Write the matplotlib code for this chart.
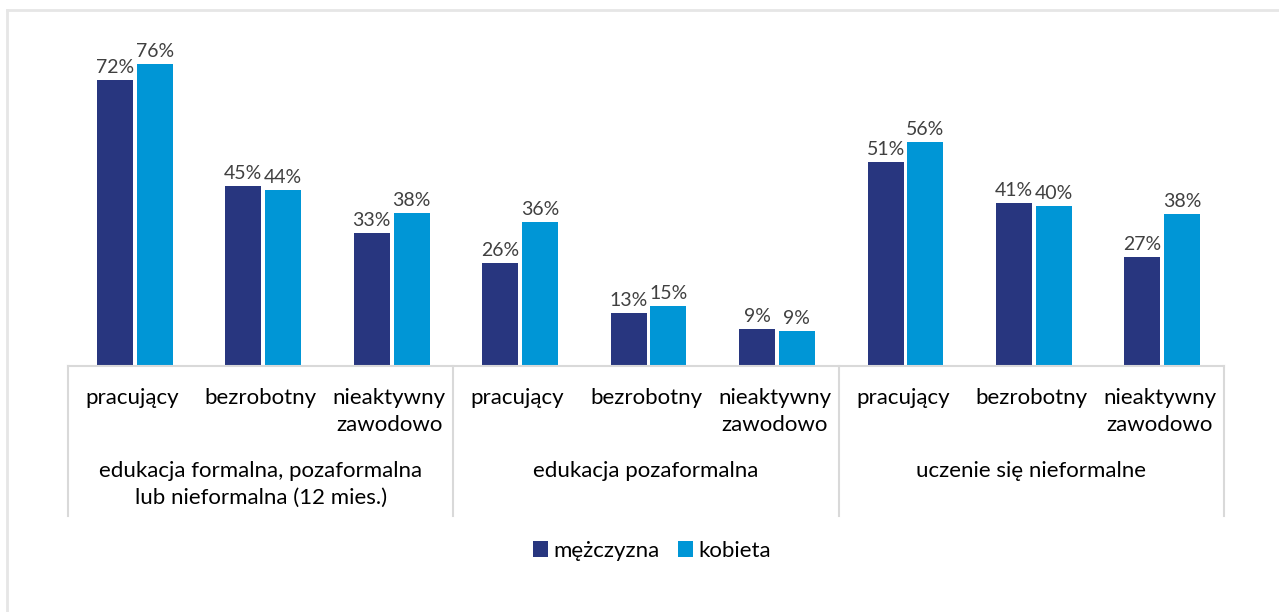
import numpy as np
import matplotlib.pyplot as plt
from matplotlib.lines import Line2D

plt.rcParams['font.family'] = ['Lato', 'DejaVu Sans']

# data
groups = ['edukacja formalna, pozaformalna\nlub nieformalna (12 mies.)',
          'edukacja pozaformalna',
          'uczenie się nieformalne']
statuses = ['pracujący', 'bezrobotny', 'nieaktywny\nzawodowo']
men   = [71.9, 45.2, 33.4, 25.9, 13.4, 9.4, 51.4, 41.0, 27.4]
women = [76.1, 44.4, 38.4, 36.2, 15.1, 8.8, 56.4, 40.2, 38.2]
series = ['mężczyzna', 'kobieta']

C_MEN = '#28367f'
C_WOMEN = '#0096d6'
C_GRID = '#d9d9d9'
W, H = 1279, 612

fig = plt.figure(figsize=(W / 100, H / 100), dpi=100)
# light frame around the chart (top and left edges)
fig.add_artist(Line2D([7 / W, 1], [1 - 10 / H] * 2, color='#e6e6e6', lw=2))
fig.add_artist(Line2D([7 / W] * 2, [0, 1 - 10 / H], color='#e6e6e6', lw=2))

ax = fig.add_axes([68 / W, (H - 366) / H, (1224 - 68) / W, (366 - 48) / H])

n = len(men)
x = np.arange(n) + 0.02
bw = 0.28
gap = 0.015
b1 = ax.bar(x - bw / 2 - gap, men, bw, color=C_MEN, label=series[0])
b2 = ax.bar(x + bw / 2 + gap, women, bw, color=C_WOMEN, label=series[1])
for bars, vals in ((b1, men), (b2, women)):
    for r, v in zip(bars, vals):
        ax.text(r.get_x() + r.get_width() / 2, v + 1.0, f'{round(v)}%',
                ha='center', va='bottom', fontsize=14, color='#404040')

ax.set_xlim(-0.5, n - 0.5)
ax.set_ylim(0, 80)
ax.set_yticks([])
ax.set_xticks([])
for s in ['top', 'right', 'left']:
    ax.spines[s].set_visible(False)
ax.spines['bottom'].set_color(C_GRID)
ax.spines['bottom'].set_linewidth(1.5)

# two-level category axis
tr = ax.get_xaxis_transform()
py = 1 / 318  # axes units per pixel
for i in range(n):
    ax.text(i, -22 * py, statuses[i % 3], ha='center', va='top',
            fontsize=16, color='#000000', transform=tr, linespacing=1.45)
for g, name in enumerate(groups):
    ax.text(3 * g + 1, -95 * py, name, ha='center', va='top',
            fontsize=16, color='#000000', transform=tr, linespacing=1.4)
for xd in [-0.5, 2.5, 5.5, 8.5]:
    ax.plot([xd, xd], [0, -150 * py], color=C_GRID, lw=1.5,
            transform=tr, clip_on=False)

fig.legend(handles=[b1, b2], labels=series, loc='center',
           bbox_to_anchor=(652 / W, 1 - 551 / H), ncol=2, frameon=False,
           fontsize=16, handlelength=0.7, handleheight=0.7,
           handletextpad=0.25, columnspacing=0.8)

fig.savefig('out.png', dpi=100)
